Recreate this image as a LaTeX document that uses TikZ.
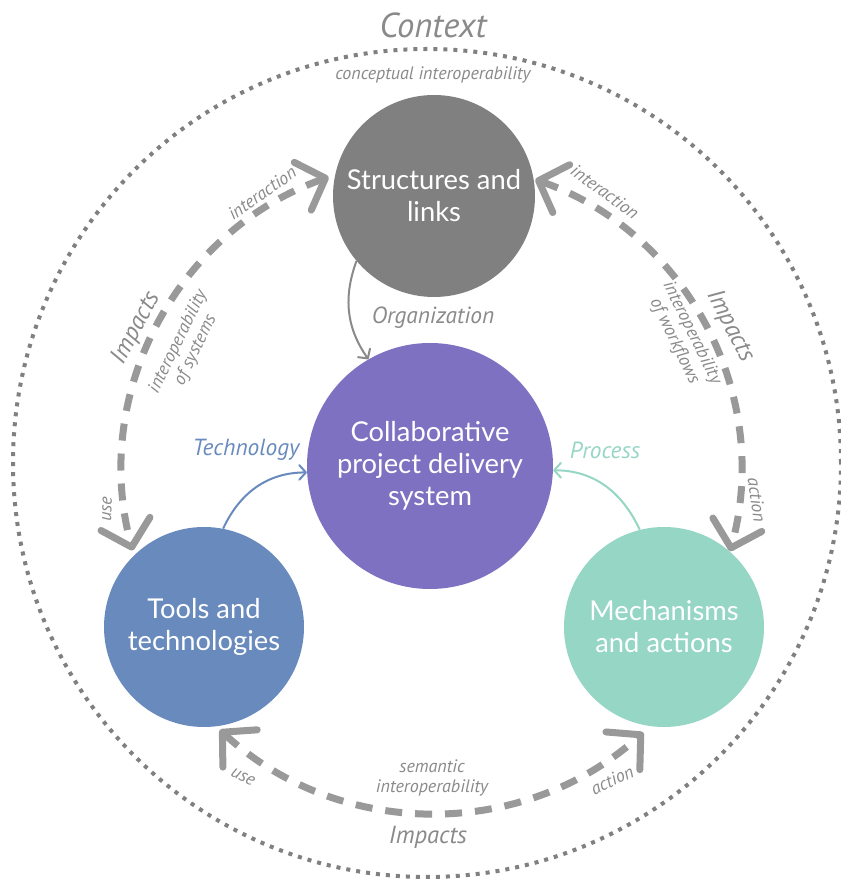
\documentclass[tikz,border=0pt]{standalone}
\usepackage{fontspec}
\setmainfont{Lato}
\newfontfamily\labfont{PT Sans}
\usetikzlibrary{arrows.meta}
\definecolor{structgray}{HTML}{808080}
\definecolor{collabpurple}{HTML}{7F71C1}
\definecolor{toolblue}{HTML}{698ABD}
\definecolor{mechteal}{HTML}{96D6C5}
\definecolor{arcgray}{HTML}{999999}
\definecolor{labgray}{HTML}{8A8A8A}

\begin{document}
\begin{tikzpicture}[x=0.75pt, y=0.75pt,
    chev/.tip={Straight Barb[length=18pt,width=38pt,round]},
    bigdisc/.style={circle, inner sep=0pt, text=white, align=center,
      font=\fontsize{20.5pt}{24pt}\selectfont},
    lab/.style={text=labgray, align=center, inner sep=0pt,
      font=\labfont\itshape\fontsize{13.5pt}{14.5pt}\selectfont},
    biglab/.style={lab, font=\labfont\itshape\fontsize{18.5pt}{20pt}\selectfont},
    midlab/.style={lab, font=\labfont\itshape\fontsize{17.5pt}{19pt}\selectfont},
    impact/.style={draw=arcgray, line width=5.25pt, dash pattern=on 12.75pt off 9.75pt, chev-chev},
    feed/.style={line width=1.5pt, -{Straight Barb[length=5pt,width=11pt,round]}}]
    \useasboundingbox (0,0) rectangle (841,882);
    \fill[white] (0,0) rectangle (841,882);

    \coordinate (ctx) at (427,419);
    \draw[structgray, line width=3pt, dash pattern=on 3pt off 4.5pt] (ctx) circle[radius=310.5pt];
    \node[lab, font=\labfont\itshape\fontsize{26pt}{28pt}\selectfont] (ctxname) at (433,857) {Context};
    \node[lab] (concept) at (433,807) {conceptual interoperability};

    \node[bigdisc, fill=structgray, minimum size=151.5pt] (struct) at (434,686) {Structures and\\links};
    \node[bigdisc, fill=collabpurple, minimum size=184.5pt] (collab) at (430,416) {Collaborative\\project delivery\\system};
    \node[bigdisc, fill=toolblue, minimum size=150pt] (tools) at (204,255) {Tools and\\technologies};
    \node[bigdisc, fill=mechteal, minimum size=150pt] (mech) at (664,255) {Mechanisms\\and actions};

    \draw[feed, labgray] (struct.220) to[out=250, in=125] (collab.120);
    \draw[feed, toolblue] (tools.79) to[out=65, in=180] (collab.183);
    \draw[feed, mechteal] (mech.104) to[out=115, in=0] (collab.-2);
    \node[midlab] (orglab) at (433,564) {Organization};
    \node[midlab, text=toolblue] (techlab) at (246,432) {Technology};
    \node[midlab, text=mechteal] (proclab) at (605,432) {Process};

    \coordinate (ring) at (433,412);
    \coordinate (lowring) at (433,384);
    \draw[impact] ([shift={(109.6:233.25pt)}]ring) arc[start angle=109.6, end angle=195, radius=233.25pt];
    \draw[impact] ([shift={(70.6:231pt)}]ring) arc[start angle=70.6, end angle=-15.3, radius=231pt];
    \draw[impact] ([shift={(227.4:236.25pt)}]lowring) arc[start angle=227.4, end angle=311.9, radius=236.25pt];

    \node[lab, rotate=35] (interl) at (262,689) {interaction};
    \node[lab, rotate=-36] (interr) at (605,690) {interaction};
    \node[biglab, rotate=62] (impl) at (136,554) {Impacts};
    \node[lab, rotate=64] (sysl) at (187,536) {interoperability\\of systems};
    \node[biglab, rotate=-63] (impr) at (730,556) {Impacts};
    \node[lab, rotate=-64] (wfr) at (683,545) {interoperability\\of workflows};
    \node[lab, rotate=88] (usel) at (107,373) {use};
    \node[lab, rotate=-82] (actr) at (757,382) {action};
    \node[lab, rotate=-28] (useb) at (243,105) {use};
    \node[lab, rotate=25] (actb) at (612,102) {action};
    \node[lab] (sem) at (432,104) {semantic\\interoperability};
    \node[biglab] (impb) at (428,45) {Impacts};
\end{tikzpicture}
\end{document}
